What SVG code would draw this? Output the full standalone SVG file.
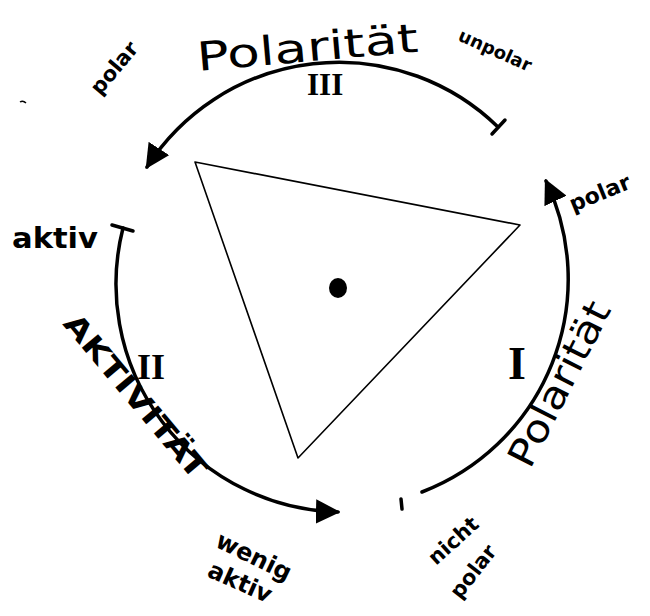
<svg xmlns="http://www.w3.org/2000/svg" width="650" height="616" viewBox="0 0 650 616">
<style>
.arc{fill:none;stroke:#000;stroke-width:3.5;stroke-linecap:round}
.tri{fill:none;stroke:#000;stroke-width:1.6;stroke-linejoin:round}
.hw{font-family:"DejaVu Sans",sans-serif;font-weight:bold;fill:#000}
.hl{font-family:"DejaVu Sans",sans-serif;fill:#000}
.rn{font-family:"Liberation Serif",serif;font-weight:bold;fill:#000}
</style>
<defs>
<marker id="ah" viewBox="0 0 10 10" refX="9" refY="5" markerWidth="7" markerHeight="7" orient="auto" markerUnits="strokeWidth">
<path d="M0,0 L10,5 L0,10 Z" fill="#000"/>
</marker>
</defs>
<rect width="650" height="616" fill="#fff"/>
<g id="triangle">
<path class="tri" d="M195,162 L520,225 L298,458 Z"/>
<ellipse cx="338" cy="288" rx="9" ry="10" fill="#000"/>
</g>
<g id="connectors">
<path class="arc" d="M498,127 A228,228 0 0 0 147,167" marker-end="url(#ah)"/>
<path class="arc" d="M492,134 L505,120"/>
<path class="arc" d="M123,228 A228,228 0 0 0 338,512" marker-end="url(#ah)"/>
<path class="arc" d="M112,225 L133,231"/>
<path class="arc" d="M422,492 A228,228 0 0 0 546,181" marker-end="url(#ah)"/>
<path class="arc" d="M401,499 L402,509" stroke-width="5"/>
<path d="M20,102 q3,-2 6,1" fill="none" stroke="#000" stroke-width="1.5"/>
</g>
<g id="labels">
<text class="hl" x="0" y="0" font-size="40" textLength="222" lengthAdjust="spacingAndGlyphs" transform="translate(198,71) rotate(-5)">Polarität</text>
<text class="rn" x="307" y="95" font-size="31">III</text>
<text class="hw" x="0" y="0" font-size="21" transform="translate(100,96) rotate(-50)">polar</text>
<text class="hw" x="0" y="0" font-size="18" transform="translate(457,40) rotate(24)">unpolar</text>
<text class="hw" x="12" y="248" font-size="29" textLength="86" lengthAdjust="spacingAndGlyphs">aktiv</text>
<text class="hw" x="0" y="0" font-size="29" textLength="205" lengthAdjust="spacingAndGlyphs" transform="translate(62,324) rotate(50)">AKTIVITÄT</text>
<text class="rn" x="137" y="379" font-size="36">II</text>
<text class="hw" x="0" y="0" font-size="24" transform="translate(214,546) rotate(26)">wenig</text>
<text class="hw" x="0" y="0" font-size="24" transform="translate(206,576) rotate(24)">aktiv</text>
<text class="hw" x="0" y="0" font-size="22" transform="translate(573,212) rotate(-22)">polar</text>
<text class="rn" x="508" y="379" font-size="46">I</text>
<text class="hl" x="0" y="0" font-size="38" textLength="180" lengthAdjust="spacingAndGlyphs" transform="translate(530,470) rotate(-63)">Polarität</text>
<text class="hw" x="0" y="0" font-size="21" transform="translate(436,566) rotate(-42)">nicht</text>
<text class="hw" x="0" y="0" font-size="21" transform="translate(460,600) rotate(-52)">polar</text>
</g>
</svg>
